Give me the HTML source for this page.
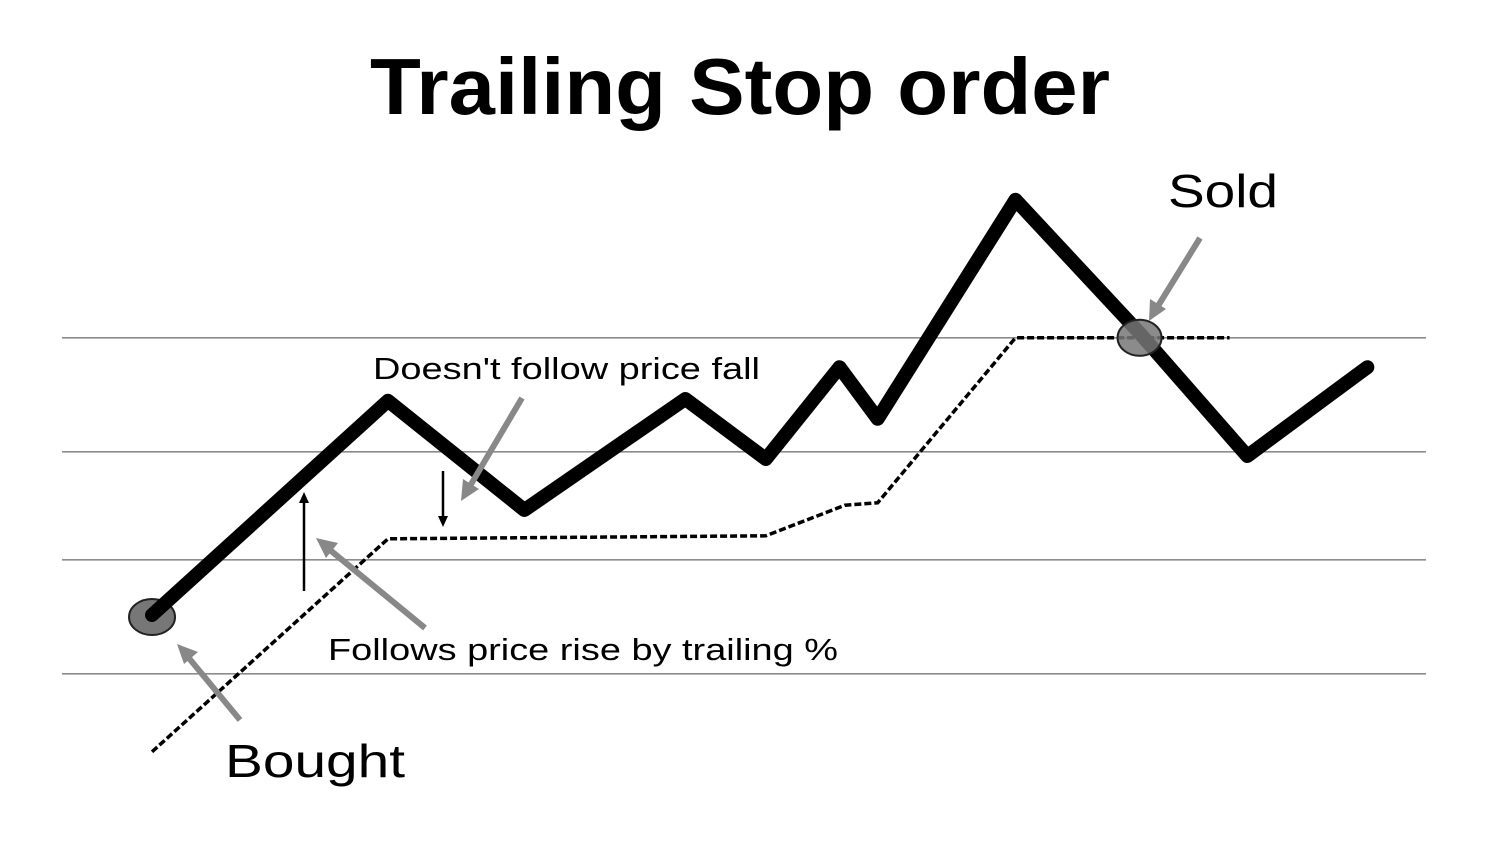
<!DOCTYPE html>
<html><head><meta charset="utf-8"><style>
html,body{margin:0;padding:0;background:#fff;}
svg{display:block;font-family:"Liberation Sans",Arial,sans-serif;}
</style></head><body>
<svg id="chart" width="1500" height="844" viewBox="0 0 1500 844">
<text x="370" y="114" textLength="740" lengthAdjust="spacingAndGlyphs" font-size="80" font-weight="bold">Trailing Stop order</text>
<g id="grid"></g>
<g id="marks"></g>
<g>
<line x1="304" y1="591" x2="304" y2="500" stroke="#000" stroke-width="2.5"/>
<polygon points="304,492 299,503 309,503" fill="#000"/>
<line x1="443" y1="471" x2="443" y2="518" stroke="#000" stroke-width="2.5"/>
<polygon points="443,527 438,516 448,516" fill="#000"/>
<g stroke="#888" stroke-width="6" fill="#888">
<line x1="240" y1="720" x2="188" y2="657"/>
<polygon points="177,644 198,652 184,664" stroke="none"/>
<line x1="425" y1="628" x2="330" y2="550"/>
<polygon points="316,538 338,543 326,558" stroke="none"/>
<line x1="522" y1="398" x2="470" y2="486"/>
<polygon points="461,501 463,479 479,489" stroke="none"/>
<line x1="1200" y1="238" x2="1158" y2="306"/>
<polygon points="1149,321 1150,299 1166,309" stroke="none"/>
</g>
<text x="1168" y="207" textLength="110" lengthAdjust="spacingAndGlyphs" font-size="46">Sold</text>
<text x="225" y="777" textLength="180" lengthAdjust="spacingAndGlyphs" font-size="46">Bought</text>
<text x="373" y="379" textLength="387" lengthAdjust="spacingAndGlyphs" font-size="31">Doesn't follow price fall</text>
<text x="328" y="660" textLength="510" lengthAdjust="spacingAndGlyphs" font-size="31">Follows price rise by trailing %</text>
</g>
</svg>
<script>
const gridValues=[73.7,54.7,36.7,17.7];
const priceT=[6.6,23.9,33.9,45.7,51.6,57.0,59.8,69.9,79.0,86.9,95.7];
const priceV=[27.5,63.2,45,63.5,53.5,68.8,60.2,96.7,74.5,54,68.8];
const stopT=[6.6,23.9,51.6,57.4,59.8,69.9,85.6];
const stopV=[4.7,40.2,40.7,45.8,46.2,73.7,73.7];
const boughtIdx=0;
const soldT=79.0, soldV=73.7;
const NS="http://www.w3.org/2000/svg";
const xs=t=>62+13.64*t;
const ys=v=>780-6*v;
function mk(tag,attrs,parent){const e=document.createElementNS(NS,tag);for(const k in attrs)e.setAttribute(k,attrs[k]);parent.appendChild(e);return e;}
const grid=document.getElementById('grid'), marks=document.getElementById('marks');
gridValues.forEach(v=>{
 const l=mk('line',{x1:62,x2:1426,y1:ys(v),y2:ys(v),stroke:'#8c8c8c','stroke-width':1.6},grid);
 
 
});
const sp=mk('polyline',{points:stopT.map((t,i)=>xs(t)+','+ys(stopV[i])).join(' '),fill:'none',stroke:'#000','stroke-width':3.5,'stroke-dasharray':'7 3'},marks);


const b=mk('ellipse',{cx:xs(priceT[boughtIdx]),cy:ys(priceV[boughtIdx])+2,rx:23,ry:18,fill:'#777',stroke:'#222','stroke-width':2},marks);


const pp=mk('polyline',{points:priceT.map((t,i)=>xs(t)+','+ys(priceV[i])).join(' '),fill:'none',stroke:'#000','stroke-width':14,'stroke-linejoin':'round','stroke-linecap':'round'},marks);


const s=mk('ellipse',{cx:xs(soldT),cy:ys(soldV),rx:22,ry:18,fill:'#777',stroke:'#222','stroke-width':2,'fill-opacity':0.85},marks);


</script>
</body></html>
